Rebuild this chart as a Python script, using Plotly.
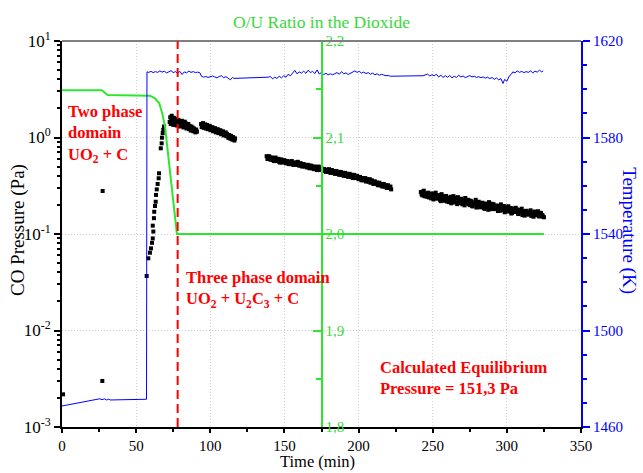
import plotly.graph_objects as go

# ---------------- data ----------------
# CO pressure (Pa) vs time (min): isolated early points and the rise
co_early_t = [0.7, 27.2, 27.4, 57.1, 58.2, 59.3, 60.0, 60.7, 61.2, 61.6, 61.2, 62.0, 62.2, 62.7, 63.2,
              63.4, 63.9, 64.5, 65.2, 65.4, 66.6, 67.2, 67.4, 67.9, 68.3, 68.8]
co_early_p = [0.00218, 0.0030, 0.279, 0.0367, 0.056, 0.064, 0.071, 0.081, 0.090, 0.106, 0.122, 0.146, 0.170,
              0.195, 0.216, 0.254, 0.290, 0.330, 0.378, 0.426, 0.773, 0.871, 0.995, 1.11, 1.20, 1.30]

co_a_t = [72.6, 73.0, 73.3, 73.7, 74.0, 74.4, 74.8, 75.1, 75.5, 75.9, 76.3, 76.6, 77.0, 77.4, 77.8, 78.1,
          78.5, 78.9, 79.3, 79.7, 80.0, 80.4, 80.8, 81.2, 81.6, 82.0, 82.4, 82.8, 83.2, 83.6, 84.0, 84.4,
          84.8, 85.2, 85.6, 86.0, 86.4, 86.8, 87.2, 87.6, 88.0, 88.5, 89.0, 89.5, 90.0, 90.5, 91.0]
co_a_p = [1.45, 1.62, 1.38, 1.55, 1.68, 1.42, 1.52, 1.35, 1.60, 1.47, 1.40, 1.56, 1.44, 1.33, 1.50, 1.41,
          1.52, 1.36, 1.46, 1.30, 1.44, 1.38, 1.49, 1.32, 1.42, 1.27, 1.37, 1.46, 1.30, 1.40, 1.24, 1.34,
          1.28, 1.38, 1.22, 1.32, 1.25, 1.18, 1.30, 1.21, 1.27, 1.16, 1.24, 1.19, 1.13, 1.21, 1.15]

co_b_t = [93.8, 94.2, 94.7, 95.1, 95.6, 96.0, 96.5, 96.9, 97.4, 97.8, 98.3, 98.7, 99.2, 99.6, 100.1, 100.5,
          101.0, 101.4, 101.9, 102.3, 102.8, 103.2, 103.7, 104.1, 104.6, 105.0, 105.5, 105.9, 106.4, 106.8,
          107.3, 107.7, 108.2, 108.6, 109.1, 109.5, 110.0, 110.4, 110.9, 111.3, 111.8, 112.2, 112.7, 113.1,
          113.6, 114.0, 114.5, 114.9, 115.4, 115.8, 116.3, 116.7]
co_b_p = [1.38, 1.28, 1.34, 1.41, 1.26, 1.33, 1.37, 1.24, 1.30, 1.35, 1.22, 1.29, 1.25, 1.32, 1.19, 1.27,
          1.21, 1.28, 1.16, 1.23, 1.18, 1.25, 1.13, 1.20, 1.15, 1.22, 1.11, 1.17, 1.12, 1.19, 1.08, 1.14,
          1.10, 1.16, 1.05, 1.11, 1.07, 1.13, 1.03, 1.09, 1.05, 0.99, 1.06, 1.01, 0.97, 1.04, 0.99, 0.95,
          1.01, 0.96, 0.93, 0.98]

co_c_t = [138, 139, 140, 141, 142, 143, 144, 145, 146, 147, 148, 149, 150, 151, 152, 153, 154, 155, 156, 157,
          158, 159, 160, 161, 162, 163, 164, 165, 166, 167, 168, 169, 170, 171, 172, 173, 174, 175, 176, 177,
          178, 179, 180, 181, 182, 183, 184, 185, 186, 187, 188, 189, 190, 191, 192, 193, 194, 195, 196, 197,
          198, 199, 200, 201, 202, 203, 204, 205, 206, 207, 208, 209, 210, 211, 212, 213, 214, 215, 216, 217,
          218, 219, 220, 221, 222]
co_c_p = [0.64, 0.60, 0.63, 0.59, 0.61, 0.57, 0.62, 0.58, 0.60, 0.55, 0.59, 0.56, 0.58, 0.54, 0.57, 0.53,
          0.56, 0.57, 0.52, 0.55, 0.53, 0.56, 0.51, 0.54, 0.50, 0.53, 0.52, 0.49, 0.52, 0.48, 0.51, 0.50,
          0.47, 0.49, 0.46, 0.50, 0.47, 0.48, 0.45, 0.47, 0.44, 0.46, 0.47, 0.43, 0.46, 0.44, 0.42, 0.45,
          0.43, 0.41, 0.44, 0.42, 0.40, 0.43, 0.41, 0.39, 0.42, 0.40, 0.38, 0.41, 0.39, 0.40, 0.37, 0.39,
          0.36, 0.38, 0.37, 0.35, 0.37, 0.35, 0.34, 0.36, 0.33, 0.35, 0.34, 0.32, 0.34, 0.32, 0.31, 0.33,
          0.31, 0.30, 0.32, 0.30, 0.29]
co_c2_t = [138.5, 139.5, 140.5, 141.5, 142.5, 143.5, 144.5, 145.5, 146.5, 147.5,
           148.5, 149.5, 150.5, 151.5, 152.5, 153.5, 154.5, 155.5, 156.5, 157.5,
           158.5, 159.5, 160.5, 161.5, 162.5, 163.5, 164.5, 165.5, 166.5, 167.5,
           168.5, 169.5, 170.5, 171.5, 172.5, 173.5, 174.5, 175.5, 176.5, 177.5,
           178.5, 179.5, 180.5, 181.5, 182.5, 183.5, 184.5, 185.5, 186.5, 187.5,
           188.5, 189.5, 190.5, 191.5, 192.5, 193.5, 194.5, 195.5, 196.5, 197.5,
           198.5, 199.5, 200.5, 201.5, 202.5, 203.5, 204.5, 205.5, 206.5, 207.5,
           208.5, 209.5, 210.5, 211.5, 212.5, 213.5, 214.5, 215.5, 216.5, 217.5,
           218.5, 219.5, 220.5, 221.5]
co_c2_p = [0.60, 0.64, 0.59, 0.62, 0.58, 0.61, 0.57, 0.60, 0.56, 0.59,
           0.55, 0.58, 0.56, 0.57, 0.54, 0.56, 0.53, 0.55, 0.54, 0.52,
           0.55, 0.52, 0.54, 0.51, 0.53, 0.50, 0.51, 0.52, 0.49, 0.51,
           0.48, 0.48, 0.50, 0.47, 0.48, 0.46, 0.49, 0.46, 0.47, 0.45,
           0.46, 0.44, 0.45, 0.45, 0.43, 0.45, 0.44, 0.42, 0.44, 0.43,
           0.41, 0.43, 0.42, 0.40, 0.42, 0.41, 0.39, 0.41, 0.40, 0.38,
           0.40, 0.38, 0.39, 0.37, 0.38, 0.36, 0.38, 0.36, 0.35, 0.37,
           0.35, 0.34, 0.35, 0.33, 0.34, 0.33, 0.32, 0.33, 0.32, 0.31,
           0.32, 0.31, 0.30, 0.31]

co_d_t = [242, 243, 244, 245, 246, 247, 248, 249, 250, 251, 252, 253, 254, 255, 256, 257, 258, 259, 260, 261,
          262, 263, 264, 265, 266, 267, 268, 269, 270, 271, 272, 273, 274, 275, 276, 277, 278, 279, 280, 281,
          282, 283, 284, 285, 286, 287, 288, 289, 290, 291, 292, 293, 294, 295, 296, 297, 298, 299, 300, 301,
          302, 303, 304, 305, 306, 307, 308, 309, 310, 311, 312, 313, 314, 315, 316, 317, 318, 319, 320, 321,
          322, 323, 324, 325]
co_d_p = [0.272, 0.251, 0.281, 0.259, 0.243, 0.268, 0.252, 0.234, 0.263, 0.241, 0.268, 0.232, 0.253, 0.224,
          0.259, 0.238, 0.221, 0.248, 0.229, 0.214, 0.243, 0.222, 0.247, 0.212, 0.233, 0.241, 0.209, 0.228,
          0.203, 0.221, 0.236, 0.207, 0.226, 0.199, 0.218, 0.193, 0.211, 0.226, 0.198, 0.216, 0.189, 0.209,
          0.199, 0.182, 0.207, 0.191, 0.214, 0.196, 0.181, 0.204, 0.188, 0.197, 0.173, 0.189, 0.203, 0.178,
          0.195, 0.171, 0.186, 0.194, 0.176, 0.163, 0.184, 0.169, 0.187, 0.174, 0.161, 0.178, 0.183, 0.166,
          0.155, 0.174, 0.160, 0.168, 0.176, 0.158, 0.151, 0.167, 0.159, 0.172, 0.152, 0.165, 0.156, 0.149]
co_d2_t = [242.5, 243.5, 244.5, 245.5, 246.5, 247.5, 248.5, 249.5, 250.5, 251.5,
           252.5, 253.5, 254.5, 255.5, 256.5, 257.5, 258.5, 259.5, 260.5, 261.5,
           262.5, 263.5, 264.5, 265.5, 266.5, 267.5, 268.5, 269.5, 270.5, 271.5,
           272.5, 273.5, 274.5, 275.5, 276.5, 277.5, 278.5, 279.5, 280.5, 281.5,
           282.5, 283.5, 284.5, 285.5, 286.5, 287.5, 288.5, 289.5, 290.5, 291.5,
           292.5, 293.5, 294.5, 295.5, 296.5, 297.5, 298.5, 299.5, 300.5, 301.5,
           302.5, 303.5, 304.5, 305.5, 306.5, 307.5, 308.5, 309.5, 310.5, 311.5,
           312.5, 313.5, 314.5, 315.5, 316.5, 317.5, 318.5, 319.5, 320.5, 321.5,
           322.5, 323.5, 324.5]
co_d2_p = [0.258, 0.275, 0.246, 0.264, 0.253, 0.239, 0.261, 0.247, 0.228, 0.255,
           0.236, 0.249, 0.241, 0.219, 0.247, 0.231, 0.242, 0.217, 0.236, 0.226,
           0.208, 0.231, 0.219, 0.237, 0.204, 0.224, 0.215, 0.232, 0.211, 0.198,
           0.223, 0.213, 0.204, 0.221, 0.196, 0.212, 0.205, 0.188, 0.214, 0.203,
           0.194, 0.211, 0.186, 0.201, 0.193, 0.178, 0.198, 0.206, 0.187, 0.192,
           0.181, 0.196, 0.185, 0.174, 0.192, 0.183, 0.168, 0.189, 0.179, 0.171,
           0.186, 0.165, 0.178, 0.172, 0.181, 0.162, 0.175, 0.169, 0.157, 0.173,
           0.164, 0.171, 0.159, 0.168, 0.154, 0.163, 0.171, 0.157, 0.162, 0.153,
           0.166, 0.158, 0.151]

# O/U ratio in the dioxide
ou_t = [0, 26.8, 30.8, 59.3, 62.7, 65.6, 67.6, 69.5, 77.5, 325]
ou_r = [2.149, 2.149, 2.144, 2.1433, 2.1406, 2.1354, 2.125, 2.111, 2.0, 2.0]

# Temperature (K)
temp_t = [0, 5, 10, 15, 20, 25.5, 27, 28.5, 30, 31.5, 32.5, 45, 57, 57.3,
          58.5, 60, 61.5, 63, 64.5, 66, 67.5, 69, 70.5, 72, 73.5, 75, 76.5, 78, 79.5, 81, 82.5, 84, 85.5,
          87, 88.5, 90, 91.5, 93, 94, 95.5, 97, 98.5, 100, 101.5, 103, 104.5, 106, 107.5, 109, 110.5, 112,
          113.5, 115, 116,
          139, 140.5, 142, 143.5, 145, 146.5, 148, 149.5, 151, 152.5, 154, 155.5, 157, 158.5, 160, 161.5,
          163, 164.5, 166, 167.5, 169, 170.5, 172, 173.5, 175, 176.5, 178, 179.5, 181, 182.5, 184, 185.5,
          187, 188.5, 190, 191.5, 193, 194.5, 196, 197.5, 199, 200.5, 202, 203.5, 205, 206.5, 208, 209.5,
          211, 212.5, 214, 215.5, 217, 218.5, 220, 221.5,
          243.5, 245, 246.5, 248, 249.5, 251, 252.5, 254, 255.5, 257, 258.5, 260, 261.5, 263, 264.5, 266,
          267.5, 269, 270.5, 272, 273.5, 275, 276.5, 278, 279.5, 281, 282.5, 284, 285.5, 287, 288.5, 290,
          291.5, 293, 294.5, 296, 297.4, 298.5, 300, 301.5, 303, 304, 305.5, 307, 308.5, 310, 311.5, 313,
          314.5, 316, 317.5, 319, 320.5, 322, 323.5, 324.5]
temp_k = [1468.7, 1469.3, 1469.9, 1470.5, 1471.1, 1471.7, 1471.3, 1471.7, 1471.2, 1471.5, 1471.2, 1471.3,
          1471.5, 1607.2,
          1607.0, 1607.4, 1606.9, 1607.3, 1607.0, 1607.6, 1607.1, 1607.5, 1606.8, 1607.2, 1607.7, 1606.9,
          1607.3, 1606.6, 1607.4, 1606.1, 1607.2, 1606.8, 1607.5, 1607.0, 1607.3, 1606.9, 1607.1, 1606.8,
          1605.4, 1605.0, 1605.3, 1604.9, 1605.2, 1605.5, 1605.1, 1604.7, 1605.3, 1605.6, 1604.8, 1605.2,
          1604.6, 1603.9, 1604.9, 1604.5,
          1605.0, 1605.3, 1604.3, 1605.0, 1604.5, 1605.4, 1604.7, 1605.6, 1605.0, 1606.2, 1605.6, 1606.8,
          1607.8, 1606.4, 1607.2, 1606.7, 1607.5, 1606.6, 1607.9, 1606.9, 1607.4, 1606.5, 1608.0, 1606.3,
          1607.0, 1606.1, 1606.6, 1606.0, 1606.4, 1606.0, 1606.3, 1606.9, 1606.2, 1607.3, 1606.4, 1606.8,
          1606.1, 1606.5, 1607.2, 1607.6, 1607.0, 1607.4, 1606.7, 1607.1, 1606.5, 1606.9, 1606.2, 1606.7,
          1606.0, 1606.4, 1605.8, 1606.2, 1605.9, 1605.6, 1605.7, 1605.4,
          1605.6, 1605.8, 1606.3, 1605.5, 1606.0, 1605.6, 1606.2, 1605.1, 1605.8, 1604.9, 1605.6, 1605.0,
          1605.7, 1604.7, 1605.4, 1604.9, 1605.8, 1605.1, 1605.5, 1604.8, 1605.3, 1605.7, 1605.1, 1605.4,
          1604.9, 1605.2, 1604.8, 1605.1, 1604.6, 1605.0, 1604.4, 1604.9, 1604.1, 1604.7, 1603.9, 1604.4,
          1602.4, 1604.1, 1603.3, 1605.4, 1606.2, 1607.2, 1606.8, 1607.6, 1607.0, 1607.4, 1606.9, 1607.3,
          1607.0, 1607.6, 1606.8, 1607.5, 1607.1, 1607.9, 1607.2, 1607.6]

# Axis ticks
x_ticks = [0, 50, 100, 150, 200, 250, 300, 350]
p_ticks = [0.001, 0.01, 0.1, 1, 10]
p_tick_text = ["10<sup>-3</sup>", "10<sup>-2</sup>", "10<sup>-1</sup>", "10<sup>0</sup>", "10<sup>1</sup>"]
p_minor = [m * d for d in [0.001, 0.01, 0.1, 1] for m in range(2, 10)]
ou_ticks = [1.8, 1.9, 2.0, 2.1, 2.2]
ou_tick_text = ["1,8", "1,9", "2,0", "2,1", "2,2"]
t_ticks = [1460, 1500, 1540, 1580, 1620]
phase_boundary_t = 78

# ---------------- styles ----------------
FONT = "Times New Roman, Liberation Serif, DejaVu Serif, serif"
GREEN = "#2ee62e"
GREEN_TXT = "#3ad83a"
BLUE = "#0000ff"
RED = "#ff0000"
GRID = "#cfcfcf"

fig = go.Figure()

co_sets = [(co_early_t, co_early_p), (co_a_t, co_a_p), (co_b_t, co_b_p), (co_c_t, co_c_p),
           (co_c2_t, co_c2_p), (co_d_t, co_d_p), (co_d2_t, co_d2_p)]
for tx, py in co_sets:
    fig.add_trace(go.Scatter(x=tx, y=py, mode="markers", yaxis="y",
                             marker=dict(symbol="square", size=4, color="black", line=dict(width=0)),
                             showlegend=False, hoverinfo="skip"))

fig.add_trace(go.Scatter(x=ou_t, y=ou_r, mode="lines", yaxis="y2",
                         line=dict(color=GREEN, width=2), showlegend=False, hoverinfo="skip"))
fig.add_trace(go.Scatter(x=temp_t, y=temp_k, mode="lines", yaxis="y3",
                         line=dict(color=BLUE, width=1), showlegend=False, hoverinfo="skip"))

fig.update_layout(
    width=643, height=473,
    margin=dict(l=62, r=62, t=41, b=46, autoexpand=False),
    paper_bgcolor="white", plot_bgcolor="white",
    font=dict(family=FONT, color="black"),
    xaxis=dict(range=[0, 350], tickmode="array", tickvals=x_ticks, ticks="outside", ticklen=4,
               tickwidth=1.5, tickcolor="black", showline=True, linecolor="black", linewidth=2,
               showgrid=True, gridcolor=GRID, griddash="1px,2px", gridwidth=1, zeroline=False,
               tickfont=dict(size=15, family=FONT),
               minor=dict(dtick=25, tick0=0, ticks="outside", ticklen=3, tickcolor="black", showgrid=False)),
    yaxis=dict(type="log", range=[-3, 1], tickmode="array", tickvals=p_ticks, ticktext=p_tick_text,
               ticks="outside", ticklen=6, tickwidth=1.5, tickcolor="black", showline=True,
               linecolor="black", linewidth=2, showgrid=True, gridcolor=GRID, griddash="1px,2px",
               gridwidth=1, zeroline=False, tickfont=dict(size=17, family=FONT),
               minor=dict(tickmode="array", tickvals=p_minor, ticks="outside", ticklen=3,
                          tickcolor="black", showgrid=False)),
    yaxis2=dict(overlaying="y", anchor="free", position=0.5, side="right", range=[1.8, 2.2],
                tickmode="array", tickvals=ou_ticks, ticktext=ou_tick_text, ticks="inside", ticklen=8,
                tickwidth=1.5, tickcolor=GREEN, showline=True, linecolor=GREEN, linewidth=2,
                showgrid=False, zeroline=False, tickfont=dict(size=15, color=GREEN_TXT, family=FONT),
                minor=dict(dtick=0.05, tick0=1.8, ticks="inside", ticklen=5, tickcolor=GREEN)),
    yaxis3=dict(overlaying="y", anchor="x", side="right", range=[1460, 1620], tickmode="array",
                tickvals=t_ticks, ticks="outside", ticklen=7, tickwidth=1.5, tickcolor=BLUE,
                showline=True, linecolor=BLUE, linewidth=2, showgrid=False, zeroline=False,
                tickfont=dict(size=15, color=BLUE, family=FONT),
                minor=dict(dtick=10, tick0=1460, ticks="outside", ticklen=4, tickcolor=BLUE)),
)

# top frame line and phase boundary
fig.add_shape(type="line", xref="paper", yref="paper", x0=0, x1=1, y0=1, y1=1,
              line=dict(color="#808080", width=2))
fig.add_shape(type="line", xref="x", yref="paper", x0=phase_boundary_t, x1=phase_boundary_t, y0=0, y1=1,
              line=dict(color=RED, width=2, dash="9px,5px"))

ann = [
    dict(text="O/U Ratio in the Dioxide", x=0.5, y=1.05, yanchor="middle",
         font=dict(size=17.5, color=GREEN_TXT)),
    dict(text="CO Pressure (Pa)", x=-0.085, y=0.51, yanchor="middle", textangle=-90, font=dict(size=19)),
    dict(text="Temperature (K)", x=1.0925, y=0.51, yanchor="middle", textangle=90,
         font=dict(size=19, color=BLUE)),
    dict(text="Time (min)", x=0.493, y=-0.1192, yanchor="bottom", font=dict(size=16.5)),
]
for a in ann:
    fig.add_annotation(xref="paper", yref="paper", xanchor="center", showarrow=False,
                       **{k: v for k, v in a.items() if k != "font"},
                       font=dict(family=FONT, **({"color": "black"} | a["font"])))

red_notes = [
    ("<b>Two phase<br>domain<br>UO<sub>2</sub> + C</b>", 0.007, 0.76),
    ("<b>Three phase domain<br>UO<sub>2</sub> + U<sub>2</sub>C<sub>3</sub> + C</b>", 0.235, 0.357),
    ("<b>Calculated Equilibrium<br>Pressure = 151,3 Pa</b>", 0.609, 0.128),
]
for txt, px, py in red_notes:
    fig.add_annotation(xref="paper", yref="paper", x=px, y=py, xanchor="left", yanchor="middle",
                       text=txt, showarrow=False, align="left",
                       font=dict(family=FONT, size=16.5, color=RED))

fig.write_html("out.html")
